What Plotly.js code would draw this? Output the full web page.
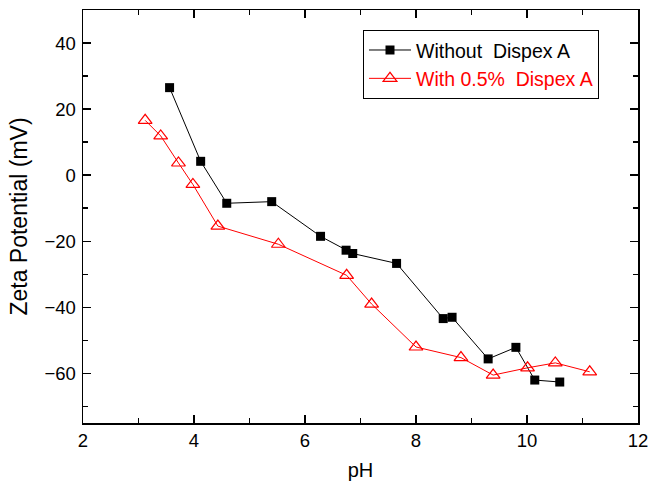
<!DOCTYPE html>
<html>
<head>
<meta charset="utf-8">
<script src="https://cdn.plot.ly/plotly-3.0.1.min.js"></script>
<style>html,body{margin:0;padding:0;background:#fff;}#plot{width:652px;height:481px;}</style>
</head>
<body>
<div id="plot"></div>
<script>
var phWithout = [3.56, 4.12, 4.59, 5.40, 6.28, 6.74, 6.86, 7.65, 8.49, 8.65, 9.30, 9.80, 10.14, 10.59];
var zetaWithout = [26.5, 4.2, -8.5, -8.0, -18.5, -22.7, -23.7, -26.7, -43.4, -43.0, -55.6, -52.1, -62.0, -62.6];
var phWith = [3.12, 3.40, 3.72, 3.98, 4.43, 5.52, 6.75, 7.20, 8.00, 8.81, 9.39, 10.01, 10.51, 11.13];
var zetaWith = [16.6, 11.9, 3.7, -2.8, -15.4, -20.9, -30.3, -39.0, -52.0, -55.2, -60.5, -58.3, -56.8, -59.5];
var nameWithout = 'Without\u00a0 Dispex A';
var nameWith = 'With 0.5%\u00a0 Dispex A';

var traces = [
  {x: phWithout, y: zetaWithout, mode: 'lines+markers', name: nameWithout,
   line: {color: '#000000', width: 1},
   marker: {symbol: 'square', size: 9, color: '#000000'}},
  {x: phWith, y: zetaWith, mode: 'lines+markers', name: '<span style="color:#ff0000">' + nameWith + '</span>',
   line: {color: '#ff0000', width: 1},
   marker: {symbol: 'triangle-up-open', size: 12, color: '#ff0000', line: {width: 1.2, color: '#ff0000'}}}
];

var axisCommon = {
  showgrid: false, zeroline: false, showline: true, linecolor: '#000', linewidth: 1.5,
  mirror: 'allticks', ticks: 'inside', ticklen: 8, tickwidth: 1.5, tickcolor: '#000',
  tickfont: {family: 'Arial, Liberation Sans, sans-serif', size: 18.5, color: '#000'}
};

var layout = {
  width: 652, height: 481,
  margin: {l: 83, r: 14, t: 10, b: 58},
  paper_bgcolor: '#fff', plot_bgcolor: '#fff',
  font: {family: 'Arial, Liberation Sans, sans-serif', size: 16, color: '#000'},
  xaxis: Object.assign({}, axisCommon, {
    range: [2, 12], dtick: 2, tick0: 2,
    minor: {ticks: 'inside', dtick: 1, ticklen: 5, tickwidth: 1.5, tickcolor: '#000'},
    title: {text: 'pH', font: {size: 20}, standoff: 14}
  }),
  yaxis: Object.assign({}, axisCommon, {
    range: [-75, 50], dtick: 20, tick0: 0, ticklabelstandoff: 2,
    minor: {ticks: 'inside', dtick: 10, ticklen: 5, tickwidth: 1.5, tickcolor: '#000'},
    title: {text: 'Zeta Potential (mV)', font: {size: 23}, standoff: 10}
  }),
  legend: {x: 0.5045, y: 0.952, xanchor: 'left', yanchor: 'top',
    bordercolor: '#000', borderwidth: 1, bgcolor: '#fff',
    font: {size: 19.5, color: '#000'}, tracegroupgap: 0, itemwidth: 42},
  showlegend: true
};

Plotly.newPlot('plot', traces, layout, {displayModeBar: false, staticPlot: true});
</script>
</body>
</html>
